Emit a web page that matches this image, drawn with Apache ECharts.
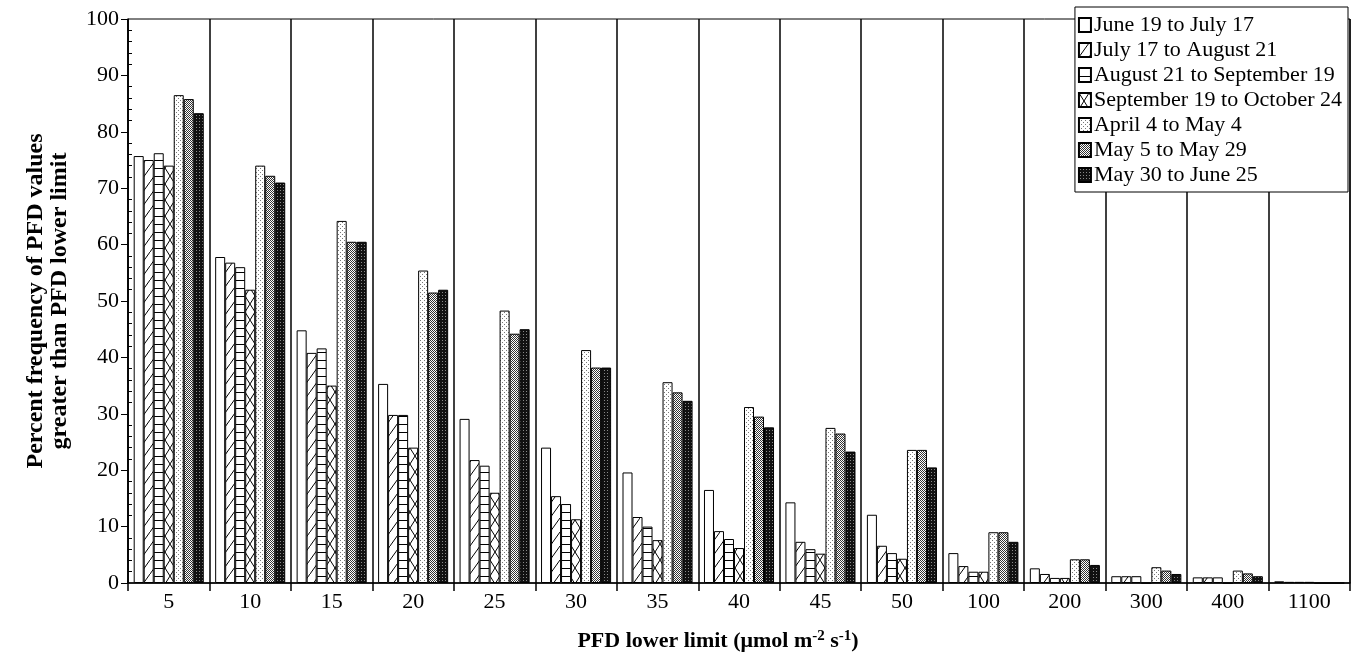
<!DOCTYPE html>
<html>
<head>
<meta charset="utf-8">
<script src="https://cdn.jsdelivr.net/npm/echarts@6/dist/echarts.min.js"></script>
<style>html,body{margin:0;padding:0;background:#fff}#c{width:1361px;height:660px}</style>
</head>
<body>
<div id="c"></div>
<script>
const categories = ['5','10','15','20','25','30','35','40','45','50','100','200','300','400','1100'];
const seriesNames = ['June 19 to July 17','July 17 to August 21','August 21 to September 19','September 19 to October 24','April 4 to May 4','May 5 to May 29','May 30 to June 25'];
const juneJuly = [75.7, 57.8, 44.8, 35.3, 29.1, 24.0, 19.6, 16.5, 14.3, 12.1, 5.3, 2.6, 1.2, 1.0, 0.3];
const julyAug  = [75.0, 56.8, 40.8, 29.8, 21.8, 15.4, 11.7, 9.2, 7.3, 6.6, 3.0, 1.6, 1.2, 1.0, 0.2];
const augSep   = [76.2, 56.0, 41.6, 29.8, 20.8, 14.0, 10.0, 7.8, 6.0, 5.3, 2.0, 0.9, 1.2, 1.0, 0.2];
const sepOct   = [74.0, 52.0, 35.0, 24.0, 16.0, 11.3, 7.6, 6.2, 5.2, 4.3, 2.0, 0.9, 0.0, 0.0, 0.2];
const aprMay   = [86.5, 74.0, 64.2, 55.4, 48.3, 41.3, 35.6, 31.2, 27.5, 23.6, 9.0, 4.2, 2.8, 2.2, 0.0];
const mayMay   = [85.8, 72.2, 60.5, 51.5, 44.2, 38.2, 33.8, 29.5, 26.5, 23.6, 9.0, 4.2, 2.2, 1.7, 0.0];
const mayJune  = [83.3, 71.0, 60.5, 52.0, 45.0, 38.2, 32.3, 27.6, 23.3, 20.5, 7.3, 3.2, 1.6, 1.2, 0.0];
const yTicks = [0,10,20,30,40,50,60,70,80,90,100];
const seriesData = [juneJuly, julyAug, augSep, sepOct, aprMay, mayMay, mayJune];

function makePattern(w, h, bg, draw) {
  const c = document.createElement('canvas');
  c.width = w; c.height = h;
  const ctx = c.getContext('2d');
  ctx.fillStyle = bg; ctx.fillRect(0, 0, w, h);
  ctx.strokeStyle = '#000'; ctx.fillStyle = '#000'; ctx.lineWidth = 1;
  draw(ctx, w, h);
  return { image: c, repeat: 'repeat' };
}
const fills = [
  '#ffffff',
  makePattern(10, 14, '#fff', (ctx, w, h) => { ctx.beginPath(); ctx.moveTo(0, h); ctx.lineTo(w, 0); ctx.stroke(); }),
  makePattern(10, 8, '#fff', (ctx, w, h) => { ctx.beginPath(); ctx.moveTo(0, 0.5); ctx.lineTo(w, 0.5); ctx.stroke(); }),
  makePattern(10, 16, '#fff', (ctx, w, h) => { ctx.beginPath(); ctx.moveTo(0, 0); ctx.lineTo(w, h); ctx.moveTo(0, h); ctx.lineTo(w, 0); ctx.stroke(); }),
  makePattern(4, 4, '#fff', (ctx) => { ctx.fillStyle = '#777'; ctx.fillRect(0, 0, 1, 1); ctx.fillRect(2, 2, 1, 1); }),
  makePattern(2, 2, '#fff', (ctx) => { ctx.fillStyle = '#333'; ctx.fillRect(0, 0, 1, 1); ctx.fillRect(1, 1, 1, 1); }),
  makePattern(3, 3, '#111', (ctx) => { ctx.fillStyle = '#888'; ctx.fillRect(1, 1, 1, 1); })
];

const chart = echarts.init(document.getElementById('c'), null, { renderer: 'canvas' });
const font = 'Liberation Serif';
chart.setOption({
  animation: false,
  backgroundColor: '#fff',
  textStyle: { fontFamily: font, color: '#000' },
  grid: { left: 128, right: 11, top: 19, bottom: 77, show: true, borderColor: '#000', borderWidth: 1, backgroundColor: 'transparent' },
  legend: {
    orient: 'vertical', right: 13, top: 7,
    backgroundColor: '#fff', borderColor: '#000', borderWidth: 1,
    padding: [7, 6, 6, 3], itemGap: 3, itemWidth: 12, itemHeight: 14,
    icon: 'rect',
    textStyle: { fontFamily: font, fontSize: 22, color: '#000', padding: [0, 0, 0, -2] },
    data: seriesNames
  },
  xAxis: {
    type: 'category', data: categories,
    axisLine: { lineStyle: { color: '#000', width: 1.5 } },
    axisTick: { show: true, length: 8, lineStyle: { color: '#000', width: 1.5 } },
    axisLabel: { fontFamily: font, fontSize: 22, color: '#000', margin: 8 },
    splitLine: { show: true, lineStyle: { color: '#000', width: 1.5 } },
    name: 'PFD lower limit (μmol m{sup|-2} s{sup|-1})',
    nameLocation: 'middle', nameGap: 46,
    nameTextStyle: {
      fontFamily: font, fontSize: 22, fontWeight: 'bold', color: '#000', padding: [0, 42, 0, 0],
      rich: { sup: { fontFamily: font, fontSize: 15, fontWeight: 'bold', color: '#000', verticalAlign: 'top', padding: [0, 0, 10, 0] } }
    }
  },
  yAxis: [{
    type: 'value', min: 0, max: 100, interval: 10,
    axisLine: { show: true, lineStyle: { color: '#000', width: 1.5 } },
    axisTick: { show: true, length: 7, lineStyle: { color: '#000' } },
    axisLabel: { fontFamily: font, fontSize: 22, color: '#000', margin: 9, formatter: v => yTicks.includes(v) ? String(v) : '' },
    splitLine: { show: false },
    name: 'Percent frequency of PFD values\ngreater than PFD lower limit',
    nameLocation: 'middle', nameGap: 56,
    nameTextStyle: { fontFamily: font, fontSize: 24, fontWeight: 'bold', color: '#000', lineHeight: 24 }
  }, {
    type: 'value', min: 0, max: 100, interval: 10, position: 'right', offset: -1222,
    axisLine: { show: false }, axisLabel: { show: false }, splitLine: { show: false },
    axisTick: { show: false },
    minorTick: { show: true, splitNumber: 5, length: 4, lineStyle: { color: '#000' } }
  }],
  series: seriesData.map((d, i) => ({
    name: seriesNames[i], type: 'bar', data: d, yAxisIndex: 0,
    barGap: '0%', barCategoryGap: '14%',
    itemStyle: { color: fills[i], borderColor: '#000', borderWidth: 1 },
    emphasis: { disabled: true }
  }))
});
</script>
</body>
</html>
